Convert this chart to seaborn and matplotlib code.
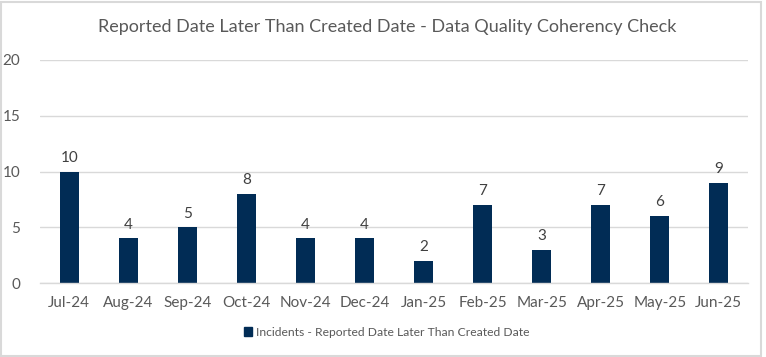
import pandas as pd
import matplotlib.pyplot as plt
import matplotlib.patches as mpatches
import seaborn as sns
import numpy as np

months = ['Jul-24', 'Aug-24', 'Sep-24', 'Oct-24', 'Nov-24', 'Dec-24',
          'Jan-25', 'Feb-25', 'Mar-25', 'Apr-25', 'May-25', 'Jun-25']
incidents = [10, 4, 5, 8, 4, 4, 2, 7, 3, 7, 6, 9]
series_name = 'Incidents - Reported Date Later Than Created Date'
title = 'Reported Date Later Than Created Date - Data Quality Coherency Check'

df = pd.DataFrame({'Month': months, 'Incidents': incidents})

sns.set_style('white')
plt.rcParams['font.family'] = ['Lato', 'DejaVu Sans']

navy = '#012C55'
grey_text = '#595959'
grid_col = '#D9D9D9'

fig = plt.figure(figsize=(7.66, 3.57), dpi=100)
ax = fig.add_axes([0.052, 0.207, 0.925, 0.625])

sns.barplot(data=df, x='Month', y='Incidents', color=navy, width=0.32,
            saturation=1, linewidth=0, ax=ax)

for i, v in enumerate(incidents):
    ax.text(i, v + 0.6, str(v), ha='center', va='bottom', fontsize=11, color='#404040')

ax.set_ylim(0, 20)
ax.set_yticks([0, 5, 10, 15, 20])
ax.set_xlim(-0.5, len(months) - 0.5)
ax.yaxis.grid(True, color=grid_col, linewidth=1)
ax.set_axisbelow(True)
for s in ['top', 'right', 'left']:
    ax.spines[s].set_visible(False)
ax.spines['bottom'].set_color(grid_col)
ax.spines['bottom'].set_linewidth(1)

ax.set_xlabel('')
ax.set_ylabel('')
ax.tick_params(axis='x', which='major', length=0, pad=9, labelsize=11, labelcolor=grey_text)
ax.tick_params(axis='y', length=0, pad=14, labelsize=11, labelcolor=grey_text)
ax.set_xticks(np.arange(-0.5, len(months)), minor=True)
ax.tick_params(axis='x', which='minor', length=5, color=grid_col, width=1)

fig.text(0.505, 0.925, title, ha='center', va='center', fontsize=13, color=grey_text)

handle = mpatches.Patch(color=navy, label=series_name)
fig.legend(handles=[handle], loc='center', bbox_to_anchor=(0.505, 0.07), frameon=False,
           fontsize=8.7, handlelength=0.7, handleheight=0.7, handletextpad=0.3,
           labelcolor=grey_text)

border = mpatches.Rectangle((0.001, 0.003), 0.993, 0.99, transform=fig.transFigure,
                            fill=False, edgecolor=grid_col, linewidth=1.5)
fig.patches.append(border)

fig.savefig('out.png', dpi=100)
